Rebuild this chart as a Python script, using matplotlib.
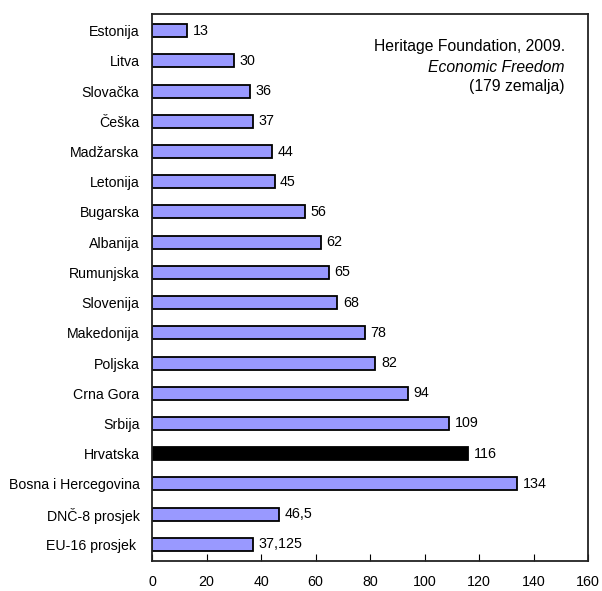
import matplotlib
matplotlib.use("Agg")
import matplotlib.pyplot as plt

plt.rcParams['font.family'] = ['Liberation Sans', 'DejaVu Sans']

countries = ["Estonija", "Litva", "Slovačka", "Češka", "Madžarska", "Letonija",
             "Bugarska", "Albanija", "Rumunjska", "Slovenija", "Makedonija",
             "Poljska", "Crna Gora", "Srbija", "Hrvatska", "Bosna i Hercegovina",
             "DNČ-8 prosjek", "EU-16 prosjek "]
ranks = [13, 30, 36, 37, 44, 45, 56, 62, 65, 68, 78, 82, 94, 109, 116, 134, 46.5, 37.125]
value_labels = ["13", "30", "36", "37", "44", "45", "56", "62", "65", "68", "78",
                "82", "94", "109", "116", "134", "46,5", "37,125"]
highlight = "Hrvatska"
xticks = [0, 20, 40, 60, 80, 100, 120, 140, 160]

fig = plt.figure(figsize=(6.02, 5.91), dpi=100)
ax = fig.add_axes([152/602, 1 - 561/591, (588-152)/602, (561-14)/591])

ypos = list(range(len(countries)))
colors = ["#000000" if c == highlight else "#9999FF" for c in countries]
ax.barh(ypos, ranks, height=0.43, color=colors, edgecolor="black", linewidth=1.3)

for y, v, lab in zip(ypos, ranks, value_labels):
    ax.text(v + 2.0, y, lab, va="center", ha="left", fontsize=10.3)

ax.set_yticks(ypos)
ax.set_yticklabels(countries, fontsize=10.2)
ax.set_ylim(len(countries) - 0.45, -0.55)
ax.set_xlim(0, 160)
ax.set_xticks(xticks)
ax.set_xticklabels([str(t) for t in xticks], fontsize=10.3)
ax.tick_params(axis="y", length=0, pad=9)
ax.tick_params(axis="x", direction="in", length=5, pad=10, width=0.8)
for s in ax.spines.values():
    s.set_linewidth(1.3)
    s.set_color("#222222")

ax.text(0.947, 0.940, "Heritage Foundation, 2009.", transform=ax.transAxes,
        ha="right", va="center", fontsize=11.3)
ax.text(0.947, 0.903, "Economic Freedom", transform=ax.transAxes,
        ha="right", va="center", fontsize=11.3, style="italic")
ax.text(0.947, 0.867, "(179 zemalja)", transform=ax.transAxes,
        ha="right", va="center", fontsize=11.3)

fig.savefig("out.png", dpi=100)
